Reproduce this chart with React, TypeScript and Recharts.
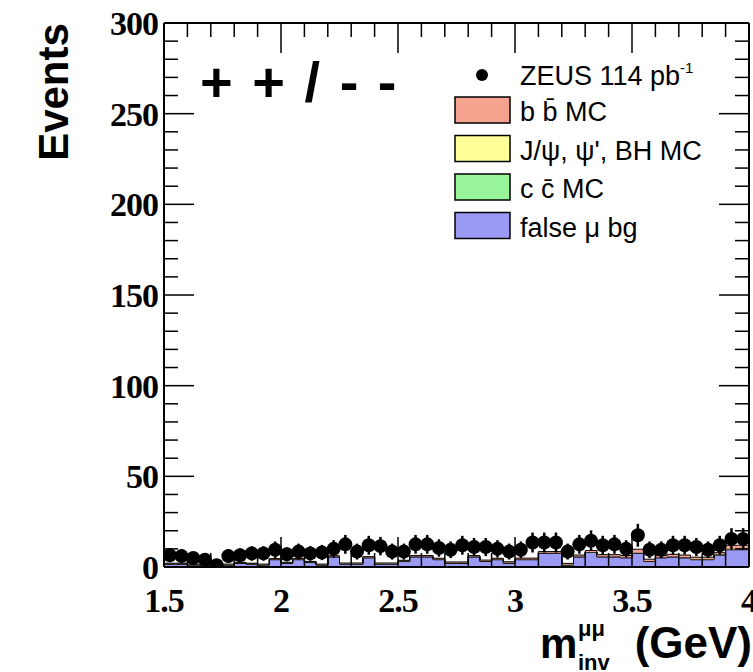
import React from "react";
import {
  ComposedChart,
  Area,
  Scatter,
  ErrorBar,
  XAxis,
  YAxis,
} from "recharts";

// bin edges, 0.05 GeV wide
const BIN_EDGES = [
  1.5, 1.55, 1.6, 1.65, 1.7, 1.75, 1.8, 1.85, 1.9, 1.95,
  2.0, 2.05, 2.1, 2.15, 2.2, 2.25, 2.3, 2.35, 2.4, 2.45,
  2.5, 2.55, 2.6, 2.65, 2.7, 2.75, 2.8, 2.85, 2.9, 2.95,
  3.0, 3.05, 3.1, 3.15, 3.2, 3.25, 3.3, 3.35, 3.4, 3.45,
  3.5, 3.55, 3.6, 3.65, 3.7, 3.75, 3.8, 3.85, 3.9, 3.95, 4.0,
];

// ZEUS data, events per bin
const ZEUS = [
  6.5, 6, 5, 4, 1, 6, 6.5, 7.5, 7.5, 9.5,
  7, 8.5, 7.5, 8, 10, 12.5, 8.5, 12, 11.5, 8.5,
  8.5, 12.5, 12.5, 10.5, 9.5, 12, 11, 11, 10, 8.5,
  9.5, 13.5, 13.5, 13.5, 8.5, 12.5, 14.5, 12, 12.5, 10,
  17.5, 9.5, 9.5, 12, 12, 11, 9.5, 12, 15.5, 15.5,
];
const ZEUS_ERR = [
  3.8, 3.6, 3.3, 3, 1.5, 3.6, 3.8, 4, 4, 4.6,
  3.9, 4.4, 4, 4.2, 4.8, 5.2, 4.4, 5.2, 5.1, 4.4,
  4.4, 5.2, 5.2, 4.8, 4.6, 5.2, 5, 5, 4.8, 4.4,
  4.6, 5.5, 5.5, 5.5, 4.4, 5.2, 5.7, 5.2, 5.2, 4.8,
  6.3, 4.6, 4.6, 5.2, 5.2, 5, 4.6, 5.2, 5.9, 5.9,
];
// half bin width, drawn as horizontal error bar
const HALF_BIN = 0.025;

// stacked MC components, per bin
const FALSE_MU = [
  1.5, 1.5, 1, 1, 1, 1, 2, 1.5, 1, 4,
  2, 4, 2.5, 1, 5.5, 1.5, 1.5, 5, 1.5, 1.5,
  3, 5.5, 5.5, 4, 2, 2, 5.5, 3, 4, 2,
  4, 4, 7.5, 7.5, 1, 5.5, 8, 5.5, 5.5, 5,
  7.5, 3, 5, 5.5, 5, 4, 4, 6.5, 9.5, 9.5,
];
const CC_MC = [
  0.2, 0.2, 0.2, 0.2, 0.2, 0.2, 0.2, 0.2, 0.2, 0.2,
  0.2, 0.2, 0.2, 0.2, 0.2, 0.2, 0.2, 0.2, 0.2, 0.2,
  0.2, 0.2, 0.2, 0.2, 0.2, 0.2, 0.2, 0.2, 0.2, 0.2,
  0.2, 0.2, 0.2, 0.2, 0.2, 0.2, 0.2, 0.2, 0.2, 0.2,
  0.2, 0.2, 0.2, 0.2, 0.2, 0.2, 0.2, 0.2, 0.2, 0.2,
];
const JPSI_MC = [
  0.1, 0.1, 0.1, 0.1, 0.1, 0.1, 0.1, 0.1, 0.1, 0.1,
  0.1, 0.1, 0.1, 0.1, 0.1, 0.1, 0.1, 0.1, 0.1, 0.1,
  0.1, 0.1, 0.1, 0.1, 0.1, 0.1, 0.1, 0.1, 0.1, 0.1,
  0.1, 0.1, 0.1, 0.1, 0.1, 0.1, 0.1, 0.1, 0.1, 0.1,
  0.1, 0.1, 0.1, 0.1, 0.2, 0.2, 0.2, 0.2, 0.3, 0.3,
];
const BB_MC = [
  0.3, 0.3, 0.3, 0.3, 0.3, 0.3, 0.3, 0.3, 0.3, 0.3,
  0.3, 0.3, 0.3, 0.3, 0.4, 0.4, 0.4, 0.4, 0.4, 0.4,
  0.4, 0.5, 0.5, 0.5, 0.5, 0.5, 0.5, 0.5, 0.5, 0.6,
  0.6, 0.6, 0.7, 0.7, 0.7, 0.8, 0.8, 1, 1, 1,
  2, 1, 1, 1.2, 1.2, 1, 1, 1, 2, 2,
];

const X_TICKS = [
  1.5, 1.6, 1.7, 1.8, 1.9, 2.0, 2.1, 2.2, 2.3, 2.4, 2.5, 2.6, 2.7,
  2.8, 2.9, 3.0, 3.1, 3.2, 3.3, 3.4, 3.5, 3.6, 3.7, 3.8, 3.9, 4.0,
];
const X_MAJOR = [1.5, 2, 2.5, 3, 3.5, 4];
const X_LABELS = ["1.5", "2", "2.5", "3", "3.5", "4"];
const Y_TICKS = [
  0, 10, 20, 30, 40, 50, 60, 70, 80, 90, 100, 110, 120, 130, 140, 150,
  160, 170, 180, 190, 200, 210, 220, 230, 240, 250, 260, 270, 280, 290, 300,
];
const Y_MAJOR = [0, 50, 100, 150, 200, 250, 300];

const COL_BB = "#f5a38f";
const COL_JPSI = "#ffff99";
const COL_CC = "#99f599";
const COL_FALSE = "#9a9af5";

const MAJOR_LEN = 30;
const MINOR_LEN = 14;
const SERIF = "'Liberation Serif', 'Times New Roman', serif";
const SANS = "'Liberation Sans', Arial, Helvetica, sans-serif";

// histogram table: one row per bin edge, the last edge repeats the last bin
const histRows = BIN_EDGES.map((edge, i) => {
  const k = Math.min(i, FALSE_MU.length - 1);
  return {
    x: edge,
    falseMu: FALSE_MU[k],
    cc: CC_MC[k],
    jpsi: JPSI_MC[k],
    bb: BB_MC[k],
  };
});

const points = ZEUS.map((v, i) => ({
  x: (BIN_EDGES[i] + BIN_EDGES[i + 1]) / 2,
  y: v,
  err: ZEUS_ERR[i],
  xerr: HALF_BIN,
}));

const isMajor = (v: number, majors: number[]) =>
  majors.some((m) => Math.abs(m - v) < 1e-6);

function BottomTick(props: any) {
  const { x, y, payload } = props;
  const major = isMajor(payload.value, X_MAJOR);
  const idx = X_MAJOR.findIndex((m) => Math.abs(m - payload.value) < 1e-6);
  return (
    <g>
      <line x1={x} y1={y} x2={x} y2={y - (major ? MAJOR_LEN : MINOR_LEN)} stroke="#000" strokeWidth={1.5} />
      {major && (
        <text x={x} y={y + 45} textAnchor="middle" fontFamily={SERIF} fontWeight="bold" fontSize={34} fill="#000" letterSpacing={-1}>
          {X_LABELS[idx]}
        </text>
      )}
    </g>
  );
}

function TopTick(props: any) {
  const { x, y, payload } = props;
  const major = isMajor(payload.value, X_MAJOR);
  return <line x1={x} y1={y} x2={x} y2={y + (major ? MAJOR_LEN : MINOR_LEN)} stroke="#000" strokeWidth={1.5} />;
}

function LeftTick(props: any) {
  const { x, y, payload } = props;
  const major = isMajor(payload.value, Y_MAJOR);
  return (
    <g>
      <line x1={x} y1={y} x2={x + (major ? MAJOR_LEN : MINOR_LEN)} y2={y} stroke="#000" strokeWidth={1.5} />
      {major && (
        <text x={x - 6} y={y + 12} textAnchor="end" fontFamily={SERIF} fontWeight="bold" fontSize={34} fill="#000" letterSpacing={-1}>
          {payload.value}
        </text>
      )}
    </g>
  );
}

function RightTick(props: any) {
  const { x, y, payload } = props;
  const major = isMajor(payload.value, Y_MAJOR);
  return <line x1={x} y1={y} x2={x - (major ? MAJOR_LEN : MINOR_LEN)} y2={y} stroke="#000" strokeWidth={1.5} />;
}

const DataDot = (props: any) => <circle cx={props.cx} cy={props.cy} r={7} fill="#000" />;

const LEGEND_ROWS = [
  { color: COL_BB, label: "b b\u0304 MC" },
  { color: COL_JPSI, label: "J/\u03c8, \u03c8', BH MC" },
  { color: COL_CC, label: "c c\u0304 MC" },
  { color: COL_FALSE, label: "false \u03bc bg" },
];

export default function App() {
  return (
    <div style={{ position: "absolute", left: 0, top: 0, width: 753, height: 672, background: "#fff" }}>
      <ComposedChart
        width={753}
        height={672}
        data={histRows}
        margin={{ top: 22, right: 3, bottom: 104, left: 163 }}
      >
        <XAxis
          xAxisId="b"
          dataKey="x"
          type="number"
          domain={[1.5, 4]}
          ticks={X_TICKS}
          interval={0}
          height={1}
          tickSize={0}
          tickMargin={0}
          tick={BottomTick}
          axisLine={{ stroke: "#000", strokeWidth: 2 }}
          allowDataOverflow
        />
        <XAxis
          xAxisId="t"
          orientation="top"
          dataKey="x"
          type="number"
          domain={[1.5, 4]}
          ticks={X_TICKS}
          interval={0}
          height={1}
          tickSize={0}
          tickMargin={0}
          tick={TopTick}
          axisLine={{ stroke: "#000", strokeWidth: 2 }}
          allowDataOverflow
        />
        <YAxis
          yAxisId="l"
          type="number"
          domain={[0, 300]}
          ticks={Y_TICKS}
          interval={0}
          width={1}
          tickSize={0}
          tickMargin={0}
          tick={LeftTick}
          axisLine={{ stroke: "#000", strokeWidth: 2 }}
          allowDataOverflow
        />
        <YAxis
          yAxisId="r"
          orientation="right"
          type="number"
          domain={[0, 300]}
          ticks={Y_TICKS}
          interval={0}
          width={1}
          tickSize={0}
          tickMargin={0}
          tick={RightTick}
          axisLine={{ stroke: "#000", strokeWidth: 2 }}
          allowDataOverflow
        />
        <Area xAxisId="b" yAxisId="l" type="stepAfter" dataKey="falseMu" stackId="mc" fill={COL_FALSE} fillOpacity={1} stroke="#000" strokeWidth={1} isAnimationActive={false} />
        <Area xAxisId="b" yAxisId="l" type="stepAfter" dataKey="cc" stackId="mc" fill={COL_CC} fillOpacity={1} stroke="#000" strokeWidth={1} isAnimationActive={false} />
        <Area xAxisId="b" yAxisId="l" type="stepAfter" dataKey="jpsi" stackId="mc" fill={COL_JPSI} fillOpacity={1} stroke="#000" strokeWidth={1} isAnimationActive={false} />
        <Area xAxisId="b" yAxisId="l" type="stepAfter" dataKey="bb" stackId="mc" fill={COL_BB} fillOpacity={1} stroke="#000" strokeWidth={1} isAnimationActive={false} />
        <Scatter xAxisId="b" yAxisId="l" data={points} dataKey="y" shape={DataDot} isAnimationActive={false}>
          <ErrorBar dataKey="err" direction="y" width={0} stroke="#000" strokeWidth={2.5} isAnimationActive={false} />
          <ErrorBar dataKey="xerr" direction="x" width={0} stroke="#000" strokeWidth={2.5} isAnimationActive={false} />
        </Scatter>
      </ComposedChart>

      {/* titles, annotation and legend drawn over the plot */}
      <svg width={753} height={672} style={{ position: "absolute", left: 0, top: 0, pointerEvents: "none" }}>
        <text transform="translate(68,92) rotate(-90)" textAnchor="middle" fontFamily={SANS} fontWeight="bold" fontSize={42} fill="#000">
          Events
        </text>

        <text x={200} y={101} fontFamily={SANS} fontWeight="bold" fontSize={56} fill="#000" letterSpacing={2}>
          + + / - -
        </text>

        <circle cx={482} cy={75} r={6} fill="#000" />
        <text x={520} y={85} fontFamily={SANS} fontSize={27} fill="#000">
          ZEUS 114 pb
          <tspan dy={-12} fontSize={15}>-1</tspan>
        </text>
        {LEGEND_ROWS.map((r, i) => (
          <g key={r.label}>
            <rect x={455} y={97 + i * 38.5} width={55} height={26} fill={r.color} stroke="#000" strokeWidth={1.5} />
            <text x={520} y={121 + i * 38.5} fontFamily={SANS} fontSize={27} fill="#000">
              {r.label}
            </text>
          </g>
        ))}

        <text x={540} y={658} fontFamily={SANS} fontWeight="bold" fontSize={42} fill="#000">m</text>
        <text x={578} y={636} fontFamily={SANS} fontWeight="bold" fontSize={22} fill="#000">{"\u03bc\u03bc"}</text>
        <text x={578} y={670} fontFamily={SANS} fontWeight="bold" fontSize={22} fill="#000">inv</text>
        <text x={752} y={658} textAnchor="end" fontFamily={SANS} fontWeight="bold" fontSize={44} fill="#000">(GeV)</text>
      </svg>
    </div>
  );
}
